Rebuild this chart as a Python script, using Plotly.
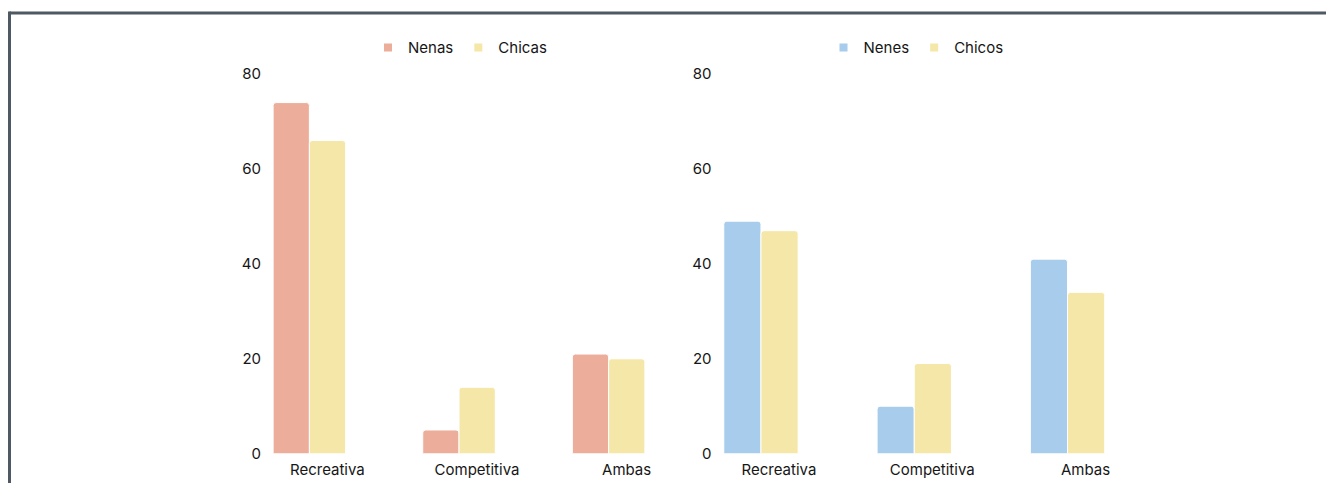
import plotly.graph_objects as go

# Sport practice type by group (percent)
categories = ["Recreativa", "Competitiva", "Ambas"]
nenas = [74, 5, 21]
chicas = [66, 14, 20]
nenes = [49, 10, 41]
chicos = [47, 19, 34]
y_ticks = [0, 20, 40, 60, 80]

SALMON = "#ECAE9A"
YELLOW = "#F5E7A8"
BLUE = "#A8CCEB"
TEXT = "#161616"
FRAME = "#4F5963"
W, H = 1326, 492

# vertical placement helpers: the drawing area sits 8px below the top, 476px tall
TOP_OFF, AREA_H = 8, 476


def py(screen_y):
    return 1 - (screen_y - TOP_OFF) / AREA_H


fig = go.Figure()


def add_bars(values, name, color, xa, ya):
    fig.add_trace(go.Bar(
        x=categories, y=values, name=name, xaxis=xa, yaxis=ya,
        marker=dict(color=color, cornerradius=3, line=dict(color="white", width=1)),
        showlegend=False, hoverinfo="x+y+name",
    ))


def add_legend_key(name, color, xa, ya, legend):
    fig.add_trace(go.Scatter(
        x=[None], y=[None], mode="markers", name=name, xaxis=xa, yaxis=ya,
        marker=dict(symbol="square", size=8, color=color),
        legend=legend, showlegend=True,
    ))


add_bars(nenas, "Nenas", SALMON, "x", "y")
add_bars(chicas, "Chicas", YELLOW, "x", "y")
add_bars(nenes, "Nenes", BLUE, "x2", "y2")
add_bars(chicos, "Chicos", YELLOW, "x2", "y2")
add_legend_key("Nenas", SALMON, "x", "y", "legend")
add_legend_key("Chicas", YELLOW, "x", "y", "legend")
add_legend_key("Nenes", BLUE, "x2", "y2", "legend2")
add_legend_key("Chicos", YELLOW, "x2", "y2", "legend2")

font = dict(family="Inter, sans-serif", size=15, color=TEXT)
y_dom = [py(454.5), py(72.5)]

xaxis_common = dict(
    type="category", range=[-0.29, 2.29], showgrid=False, zeroline=False,
    showline=False, ticks="", ticklabelshift=18, ticklabelstandoff=5,
    tickfont=font, fixedrange=True,
)
yaxis_common = dict(
    range=[0, 80], tickvals=y_ticks, showgrid=False, zeroline=False,
    showline=False, ticks="", ticklabelstandoff=4, tickfont=font,
    domain=y_dom, fixedrange=True,
)

legend_common = dict(
    orientation="h", xanchor="center", yanchor="middle", y=py(46),
    font=font, bgcolor="rgba(0,0,0,0)", itemclick=False, itemdoubleclick=False,
)

fig.update_layout(
    width=W, height=H,
    margin=dict(l=0, r=0, t=0, b=0),
    paper_bgcolor="white", plot_bgcolor="white",
    barmode="group", bargap=0.515, bargroupgap=0,
    font=font,
    xaxis=dict(xaxis_common, domain=[266 / W, 652 / W], anchor="y"),
    yaxis=dict(yaxis_common, anchor="x"),
    xaxis2=dict(xaxis_common, domain=[716.5 / W, 1112 / W], anchor="y2"),
    yaxis2=dict(yaxis_common, anchor="x2"),
    legend=dict(legend_common, x=460 / W),
    legend2=dict(legend_common, x=916 / W),
    shapes=[
        dict(type="line", xref="paper", yref="paper",
             x0=9.5 / W, x1=1.0, y0=py(11), y1=py(11),
             line=dict(color=FRAME, width=3)),
        dict(type="line", xref="paper", yref="paper",
             x0=9.5 / W, x1=9.5 / W, y0=0, y1=py(9.5),
             line=dict(color=FRAME, width=3)),
    ],
)

fig.write_html("out.html")
